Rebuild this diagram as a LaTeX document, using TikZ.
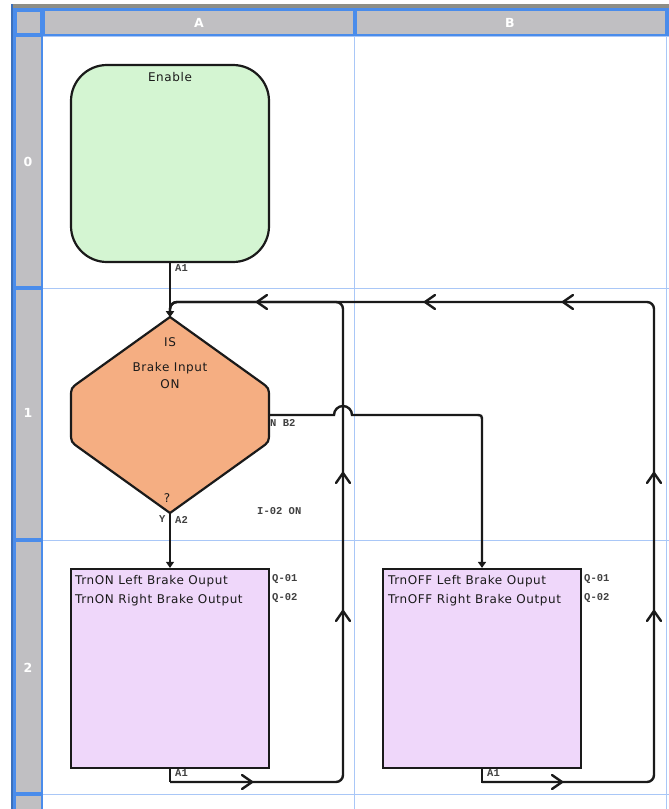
\documentclass[tikz,border=0pt]{standalone}
\usepackage{fontspec}
\setmainfont{DejaVu Sans}[LetterSpace=5]
\newfontfamily\labfont{Liberation Mono}
\newfontfamily\hdrfont{DejaVu Sans}
\usetikzlibrary{arrows.meta}
\definecolor{hdrgrey}{HTML}{C0BFC2}
\definecolor{hdrblue}{HTML}{4A8CEB}
\definecolor{gridblue}{HTML}{A9C7F7}
\definecolor{topband}{HTML}{8E8E86}
\definecolor{enfill}{HTML}{D4F5D2}
\definecolor{decfill}{HTML}{F5AE82}
\definecolor{actfill}{HTML}{EFD7FA}
\definecolor{ink}{HTML}{1A1A1A}
\begin{document}
\begin{tikzpicture}[x=1pt,y=-1pt,
  shapeline/.style={draw=ink, line width=2.2pt},
  enablebox/.style={shapeline, fill=enfill, rounded corners=36pt, minimum width=198pt, minimum height=197pt, inner sep=0pt},
  actbox/.style={shapeline, fill=actfill, minimum width=198pt, minimum height=199pt, inner sep=0pt},
  conn/.style={draw=ink, line width=2.4pt, rounded corners=7pt},
  thinconn/.style={draw=ink, line width=1.2pt},
  tip/.style={-{Triangle[width=8pt,length=6pt]}},
  chevron/.style={draw=ink, line width=2.4pt, line cap=round},
  maintext/.style={font=\fontsize{12}{19}\selectfont, text=ink, inner sep=0pt},
  labtext/.style={font=\labfont\bfseries\fontsize{10.5}{12}\selectfont, text=black!75, inner sep=0pt},
  hdrtext/.style={font=\hdrfont\bfseries\fontsize{12.5}{14}\selectfont, text=white, inner sep=0pt},
]
\useasboundingbox (0,0) rectangle (669,809);
% ---------- grid frame ----------
\fill[white] (0,0) rectangle (669,809);
\fill[topband] (11,4) rectangle (669,8);
\fill[hdrblue!80!black] (11,4) rectangle (13,809);
\fill[hdrblue] (13,8) rectangle (669,36);
\fill[hdrblue] (13,8) rectangle (43,809);
\fill[hdrgrey] (17,12) rectangle (40,33);
\fill[hdrgrey] (45,11) rectangle (353,34);
\fill[hdrgrey] (357,11) rectangle (665,34);
\fill[hdrgrey] (16,37) rectangle (41,286);
\fill[hdrgrey] (16,290) rectangle (41,538);
\fill[hdrgrey] (16,542) rectangle (41,792);
\fill[hdrgrey] (16,796) rectangle (41,809);
\draw[gridblue, line width=1pt] (43,36.5) -- (669,36.5);
\draw[gridblue, line width=1pt] (43,288.5) -- (669,288.5);
\draw[gridblue, line width=1pt] (43,540.5) -- (669,540.5);
\draw[gridblue, line width=1pt] (43,794.5) -- (669,794.5);
\draw[gridblue, line width=1pt] (354.5,36) -- (354.5,809);
\draw[gridblue, line width=1pt] (666.5,36) -- (666.5,809);
\node[hdrtext] (hA) at (199,22.5) {A};
\node[hdrtext] (hB) at (510,22.5) {B};
\node[hdrtext] (h0) at (28,162) {0};
\node[hdrtext] (h1) at (28,413) {1};
\node[hdrtext] (h2) at (28,668) {2};
% ---------- shapes ----------
\node[enablebox] (en) at (170,163.5) {};
\node[maintext, anchor=base] (entxt) at (170,81.5) {Enable};
\coordinate (dtop) at (170,317);
\coordinate (dbot) at (170,513);
\coordinate (deast) at (269,415);
\draw[shapeline, fill=decfill, line join=miter]
  (170,317) -- (260.9,382.2) .. controls (269,388) .. (269,398)
  -- (269,432) .. controls (269,442) .. (260.9,447.8)
  -- (170,513) -- (79.1,447.8) .. controls (71,442) .. (71,432)
  -- (71,398) .. controls (71,388) .. (79.1,382.2) -- cycle;
\node[maintext, anchor=base] (dis) at (170,346.5) {IS};
\node[maintext, anchor=base] (dbi) at (170,371.5) {Brake Input};
\node[maintext, anchor=base] (don) at (170,388.5) {ON};
\node[maintext, anchor=base] (dq) at (167,502.5) {?};
\node[actbox] (boxA) at (170,668.5) {};
\node[actbox] (boxB) at (482,668.5) {};
\node[maintext, anchor=base west, align=left] (tA1) at (75,584.5) {TrnON Left Brake Ouput};
\node[maintext, anchor=base west, align=left] (tA2) at (75,603.5) {TrnON Right Brake Output};
\node[maintext, anchor=base west, align=left] (tB1) at (388,584.5) {TrnOFF Left Brake Ouput};
\node[maintext, anchor=base west, align=left] (tB2) at (388,603.5) {TrnOFF Right Brake Output};
% ---------- labels ----------
\node[labtext, anchor=base west] (lA1top) at (175,271.5) {A1};
\node[labtext, anchor=base west] (lNB2) at (270,426.5) {N B2};
\node[labtext, anchor=base west] (lY) at (159,522.5) {Y};
\node[labtext, anchor=base west] (lA2) at (175,523.5) {A2};
\node[labtext, anchor=base west] (lI02) at (257,514.5) {I-02 ON};
\node[labtext, anchor=base west] (lAQ1) at (272,581.5) {Q-01};
\node[labtext, anchor=base west] (lAQ2) at (272,600.5) {Q-02};
\node[labtext, anchor=base west] (lBQ1) at (584,581.5) {Q-01};
\node[labtext, anchor=base west] (lBQ2) at (584,600.5) {Q-02};
\node[labtext, anchor=base west] (lA1A) at (175,776.5) {A1};
\node[labtext, anchor=base west] (lA1B) at (487,776.5) {A1};
% ---------- connectors ----------
\coordinate (aA) at (170,782);
\coordinate (aB) at (482,782);
\coordinate (loopA) at (343,782);
\coordinate (loopB) at (654,782);
\coordinate (topA) at (343,302);
\coordinate (topB) at (654,302);
\coordinate (topL) at (170,302);
\draw[thinconn] (en.south) -- (dtop);
\draw[thinconn, tip] (dbot) -- (boxA.north);
\draw[thinconn] (boxA.south) -- (aA);
\draw[conn, line cap=rect, rounded corners=0pt] (boxB.south) -- (aB);
\draw[conn, tip] (aA) -- (loopA) -- (topA) -- (topL) -- (dtop);
\draw[conn, tip] (aB) -- (loopB) -- (topB) -- (topL) -- (dtop);
\draw[draw=ink, line width=2.4pt, tip] (deast) -- (334,415) arc[start angle=180, end angle=0, radius=9pt]
  -- (475,415) .. controls (482,415) .. (482,422) -- (boxB.north);
% chevrons
\draw[chevron] (267,295) -- (257,302) -- (267,309);
\draw[chevron] (435,295) -- (425,302) -- (435,309);
\draw[chevron] (573,295) -- (563,302) -- (573,309);
\draw[chevron] (336,483) -- (343,473) -- (350,483);
\draw[chevron] (336,621) -- (343,611) -- (350,621);
\draw[chevron] (647,483) -- (654,473) -- (661,483);
\draw[chevron] (647,621) -- (654,611) -- (661,621);
\draw[chevron] (242,775) -- (252,782) -- (242,789);
\draw[chevron] (552,775) -- (562,782) -- (552,789);
\end{tikzpicture}
\end{document}
